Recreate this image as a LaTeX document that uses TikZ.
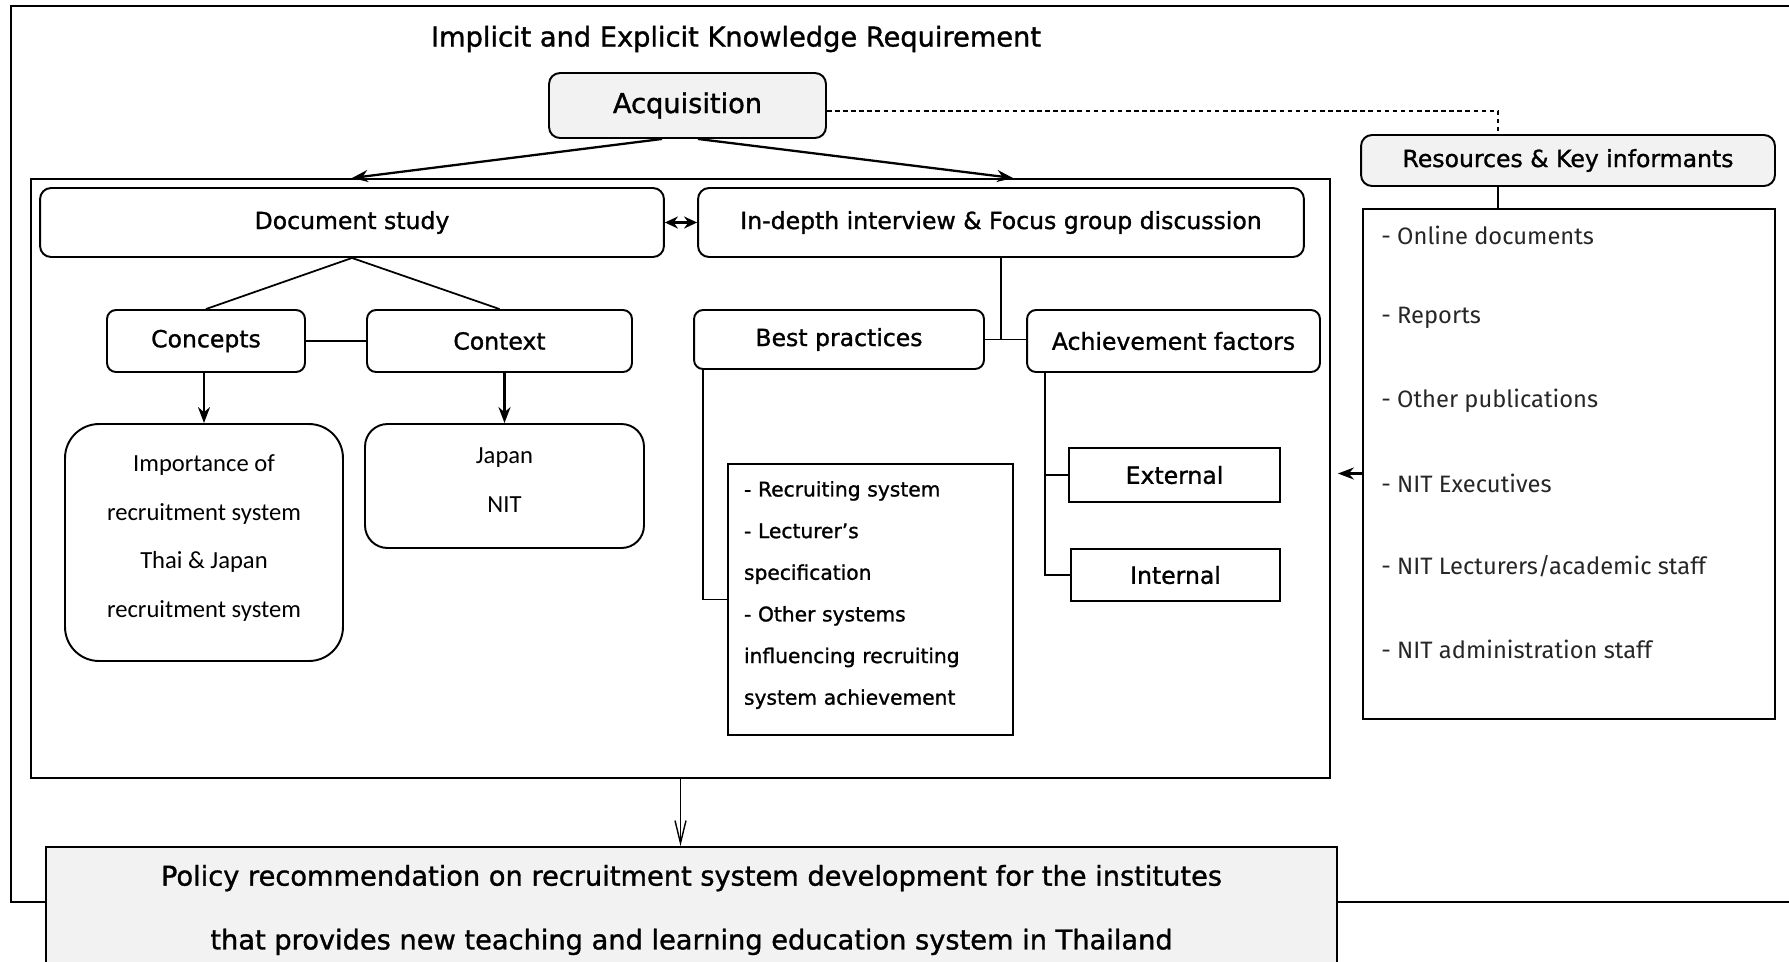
\documentclass[tikz,border=0pt]{standalone}
\usepackage{fontspec}
\setmainfont{DejaVu Sans}[FakeBold=1.2]
\newfontfamily\calfont{Carlito}
\newfontfamily\listfont{Fira Sans}
\usepackage{tikz}
\usetikzlibrary{arrows.meta, positioning, calc}
\definecolor{boxfill}{RGB}{242,242,242}
\tikzset{
    roundbox/.style={
        rectangle,
        rounded corners=0.22cm,
        draw=black,
        line width=1.1pt,
        text centered,
        inner sep=0pt,
        font=\fontsize{13.4}{16}\selectfont
    },
    greybox/.style={
        roundbox,
        fill=boxfill
    },
    plainbox/.style={
        rectangle,
        draw=black,
        line width=1.1pt,
        inner sep=0pt,
        font=\fontsize{13.4}{16}\selectfont
    },
    softbox/.style={
        roundbox,
        rounded corners=0.68cm
    },
    softtext/.style={
        align=center,
        inner sep=0pt,
        font=\calfont\fontsize{14}{27.6}\selectfont
    },
    bptext/.style={
        align=left,
        inner sep=0pt,
        text width=5.06cm,
        font=\fontsize{11.5}{23.7}\selectfont
    },
    srctext/.style={
        inner sep=0pt,
        text=black!85,
        font=\listfont\fontsize{13.5}{16}\selectfont
    },
    headtext/.style={
        font=\fontsize{15.5}{18}\selectfont
    },
    connection/.style={
        draw=black,
        line width=1.3pt,
        -{Stealth[length=0.32cm, width=0.24cm]}
    },
    twoway/.style={
        draw=black,
        line width=1.3pt,
        {Stealth[length=0.26cm, width=0.24cm]}-{Stealth[length=0.26cm, width=0.24cm]}
    },
    openarrow/.style={
        draw=black,
        line width=0.8pt,
        -{Straight Barb[length=0.45cm, width=0.22cm]}
    },
    link/.style={
        draw=black,
        line width=1pt
    },
    dashlink/.style={
        draw=black,
        line width=1pt,
        dash pattern=on 2.6pt off 2pt
    },
    frame/.style={
        draw=black,
        line width=1.4pt
    }
}

\begin{document}
\begin{tikzpicture}[x=0.02cm, y=-0.02cm]
\useasboundingbox (0,0) rectangle (1789,961);

% Outer frame
\draw[frame] (11,6) rectangle (1800,902);

% Title and acquisition
\node[headtext] (title) at (736,39) {Implicit and Explicit Knowledge Requirement};
\node[greybox, headtext, minimum width=5.54cm, minimum height=1.3cm] (acq) at (687.5,105.5) {Acquisition};

% Resources & key informants
\node[greybox, minimum width=8.28cm, minimum height=1.02cm] (res) at (1568,160.5) {Resources \& Key informants};
\node[plainbox, minimum width=8.24cm, minimum height=10.2cm] (srclist) at (1569,464) {};
\foreach \t [count=\i] in {Online documents, Reports, Other publications, NIT Executives, NIT Lecturers/academic staff, NIT administration staff} {
    \node[srctext, anchor=west] (src\i) at (1381,{235+82.8*(\i-1)}) {- \t};
}

% Study frame
\node[plainbox, line width=1.2pt, minimum width=25.98cm, minimum height=11.98cm] (inner) at (680.5,478.5) {};

% Document study
\node[roundbox, minimum width=12.48cm, minimum height=1.38cm] (doc) at (352,222.5) {Document study};
\node[roundbox, rounded corners=0.18cm, minimum width=3.96cm, minimum height=1.24cm] (concepts) at (206,341) {Concepts};
\node[roundbox, rounded corners=0.18cm, minimum width=5.3cm, minimum height=1.24cm] (context) at (499.5,341) {Context};
\node[softbox, minimum width=5.56cm, minimum height=4.74cm] (import) at (204,542.5) {};
\node[softtext] (importtxt) at (204,538) {Importance of\\recruitment system\\Thai \& Japan\\recruitment system};
\node[softbox, rounded corners=0.45cm, minimum width=5.58cm, minimum height=2.48cm] (japan) at (504.5,486) {};
\node[softtext] (japantxt) at (504.5,480) {Japan\\NIT};

% Interview & focus group
\node[roundbox, minimum width=12.12cm, minimum height=1.38cm] (intv) at (1001,222.5) {In-depth interview \& Focus group discussion};
\node[roundbox, rounded corners=0.18cm, minimum width=5.8cm, minimum height=1.18cm] (best) at (839,339.5) {Best practices};
\node[roundbox, rounded corners=0.18cm, minimum width=5.86cm, minimum height=1.24cm] (achv) at (1173.5,341) {Achievement factors};
\node[plainbox, minimum width=5.7cm, minimum height=5.42cm] (bplist) at (870.5,599.5) {};
\node[bptext] (bptxt) at (870.5,595) {- Recruiting system\\- Lecturer’s\\specification\\- Other systems\\influencing recruiting\\system achievement};
\node[plainbox, minimum width=4.22cm, minimum height=1.08cm] (ext) at (1174.5,475) {External};
\node[plainbox, minimum width=4.18cm, minimum height=1.04cm] (int) at (1175.5,575) {Internal};

% Policy recommendation
\node[plainbox, fill=boxfill, align=center, minimum width=25.82cm, minimum height=2.52cm, font=\fontsize{15.5}{36.3}\selectfont] (policy) at (691.5,910) {Policy recommendation on recruitment system development for the institutes\\that provides new teaching and learning education system in Thailand};

% Connectors
\draw[connection] ([xshift=-0.51cm]acq.south) -- (doc |- inner.north);
\draw[connection] ([xshift=0.21cm]acq.south) -- ([xshift=0.24cm]intv.north |- inner.north);
\draw[dashlink] ([yshift=-0.11cm]acq.east) -| ([xshift=-1.4cm]res.north);
\draw[link] ([xshift=-1.4cm]res.south) -- ([xshift=-1.4cm]res.south |- srclist.north);
\coordinate (srcin) at ($(inner.east |- srclist.west)+(7,9.5)$);
\draw[connection] (srclist.west |- srcin) -- (srcin);
\draw[twoway] (doc.east) -- (intv.west);

\draw[link] (doc.south) -- (concepts.north);
\draw[link] (doc.south) -- (context.north);
\draw[link] (concepts.east) -- (context.west);
\draw[connection] (import.north |- concepts.south) -- (import.north);
\draw[connection] (japan.north |- context.south) -- (japan.north);

\draw[link] (intv.south) -- (intv.south |- best.east);
\draw[link] (best.east) -- (best.east -| achv.west);
\draw[link] ([xshift=0.2cm]best.south west) |- (bplist.west);
\draw[link] ([xshift=0.38cm]achv.south west) |- (int.west);
\draw[link] ([xshift=0.38cm]achv.south west |- ext.west) -- (ext.west);

\draw[openarrow] (inner.south) -- (inner.south |- policy.north);

\end{tikzpicture}
\end{document}
